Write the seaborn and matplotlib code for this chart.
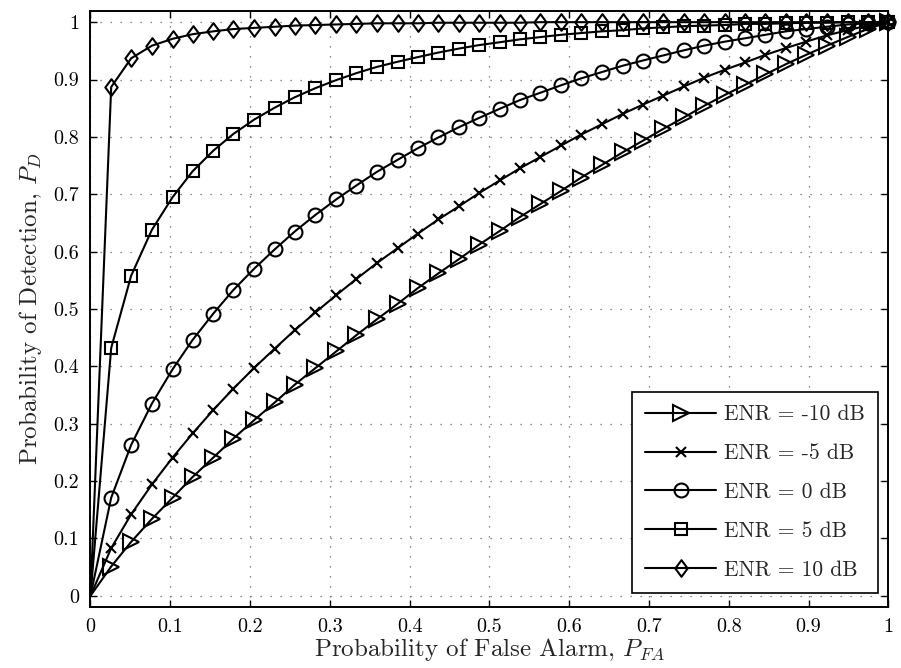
import numpy as np
import pandas as pd
import seaborn as sns
import matplotlib.pyplot as plt
from matplotlib.path import Path
from matplotlib.ticker import FuncFormatter

# probability of false alarm (x axis), 40 evenly spaced points
pfa = [0.000, 0.026, 0.051, 0.077, 0.103, 0.128, 0.154, 0.179, 0.205, 0.231,
       0.256, 0.282, 0.308, 0.333, 0.359, 0.385, 0.410, 0.436, 0.462, 0.487,
       0.513, 0.538, 0.564, 0.590, 0.615, 0.641, 0.667, 0.692, 0.718, 0.744,
       0.769, 0.795, 0.821, 0.846, 0.872, 0.897, 0.923, 0.949, 0.974, 1.000]

# probability of detection
pd_m10 = [0.000, 0.051, 0.094, 0.134, 0.171, 0.207, 0.241, 0.274, 0.306, 0.337,
          0.368, 0.397, 0.426, 0.454, 0.482, 0.509, 0.536, 0.562, 0.587, 0.612,
          0.636, 0.660, 0.683, 0.706, 0.729, 0.751, 0.773, 0.793, 0.814, 0.834,
          0.854, 0.873, 0.891, 0.909, 0.927, 0.943, 0.959, 0.974, 0.988, 1.000]
pd_m5 = [0.000, 0.083, 0.142, 0.194, 0.241, 0.283, 0.324, 0.361, 0.397, 0.431,
         0.463, 0.494, 0.524, 0.552, 0.580, 0.606, 0.631, 0.656, 0.679, 0.702,
         0.724, 0.745, 0.765, 0.785, 0.804, 0.822, 0.840, 0.856, 0.872, 0.888,
         0.903, 0.917, 0.930, 0.943, 0.955, 0.966, 0.977, 0.986, 0.994, 1.000]
pd_0 = [0.000, 0.171, 0.263, 0.335, 0.395, 0.446, 0.492, 0.533, 0.570, 0.604,
        0.635, 0.664, 0.691, 0.715, 0.739, 0.760, 0.780, 0.799, 0.817, 0.833,
        0.849, 0.864, 0.877, 0.890, 0.902, 0.913, 0.924, 0.933, 0.942, 0.951,
        0.959, 0.966, 0.972, 0.978, 0.984, 0.988, 0.992, 0.996, 0.998, 1.000]
pd_5 = [0.000, 0.432, 0.558, 0.638, 0.695, 0.740, 0.776, 0.805, 0.830, 0.851,
        0.869, 0.885, 0.899, 0.911, 0.922, 0.931, 0.939, 0.947, 0.954, 0.960,
        0.965, 0.970, 0.974, 0.978, 0.981, 0.984, 0.986, 0.989, 0.991, 0.993,
        0.994, 0.995, 0.997, 0.997, 0.998, 0.999, 0.999, 1.000, 1.000, 1.000]
pd_10 = [0.000, 0.887, 0.937, 0.959, 0.971, 0.979, 0.984, 0.988, 0.990, 0.992,
         0.994, 0.995, 0.996, 0.997, 0.998, 0.998, 0.998, 0.999, 0.999, 0.999,
         0.999, 0.999, 1.000, 1.000, 1.000, 1.000, 1.000, 1.000, 1.000, 1.000,
         1.000, 1.000, 1.000, 1.000, 1.000, 1.000, 1.000, 1.000, 1.000, 1.000]

labels = ['ENR = -10 dB', 'ENR = -5 dB', 'ENR = 0 dB', 'ENR = 5 dB', 'ENR = 10 dB']
series = [pd_m10, pd_m5, pd_0, pd_5, pd_10]
ticks = [0, 0.1, 0.2, 0.3, 0.4, 0.5, 0.6, 0.7, 0.8, 0.9, 1]

# MATLAB-like diamond (a bit taller than wide)
diamond = Path([(0, 1), (0.74, 0), (0, -1), (-0.74, 0), (0, 1)],
               [Path.MOVETO, Path.LINETO, Path.LINETO, Path.LINETO, Path.CLOSEPOLY])
markers = ['>', 'x', 'o', 's', diamond]
msizes = [11.5, 7.5, 10, 8, 12]

sns.set_style('ticks')
plt.rcParams['font.family'] = ['cmr10', 'DejaVu Serif']
plt.rcParams['mathtext.fontset'] = 'cm'
plt.rcParams['axes.formatter.use_mathtext'] = True

fig = plt.figure(figsize=(9.01, 6.68), dpi=100)
ax = fig.add_axes([0.1004, 0.0918, 0.8855, 0.8922])

for y, lab, m, ms in zip(series, labels, markers, msizes):
    df = pd.DataFrame({'pfa': pfa, 'pd': y})
    sns.lineplot(data=df, x='pfa', y='pd', ax=ax, color='black', lw=1.5,
                 marker=m, markersize=ms, markerfacecolor='none',
                 markeredgecolor='black', markeredgewidth=1.5,
                 markevery=slice(1, None), label=lab, clip_on=False, sort=False)

ax.set_xlim(0, 1)
ax.set_ylim(-0.019, 1.02)
ax.set_xticks(ticks)
ax.set_yticks(ticks)
fmt = FuncFormatter(lambda v, p: '%g' % v)
ax.xaxis.set_major_formatter(fmt)
ax.yaxis.set_major_formatter(fmt)
ax.tick_params(direction='in', top=True, right=True, length=5, width=1,
               labelsize=14.5, pad=8, colors='black')
for sp in ax.spines.values():
    sp.set_linewidth(1.4)
    sp.set_color('black')
ax.grid(True, color='0.4', linestyle=(0, (1, 7)), linewidth=0.9)

ax.set_xlabel('Probability of False Alarm, $P_{FA}$', fontsize=18, labelpad=0)
ax.set_ylabel('Probability of Detection, $P_D$', fontsize=18, labelpad=7)

leg = ax.legend(loc='lower right', bbox_to_anchor=(0.987, 0.0235),
                borderaxespad=0, fontsize=15.5, frameon=True, fancybox=False,
                framealpha=1, edgecolor='black', handlelength=3.3,
                handletextpad=0.37, labelspacing=0.9, borderpad=0.6)
leg.get_frame().set_linewidth(1.2)

fig.savefig('out.png', dpi=100)
